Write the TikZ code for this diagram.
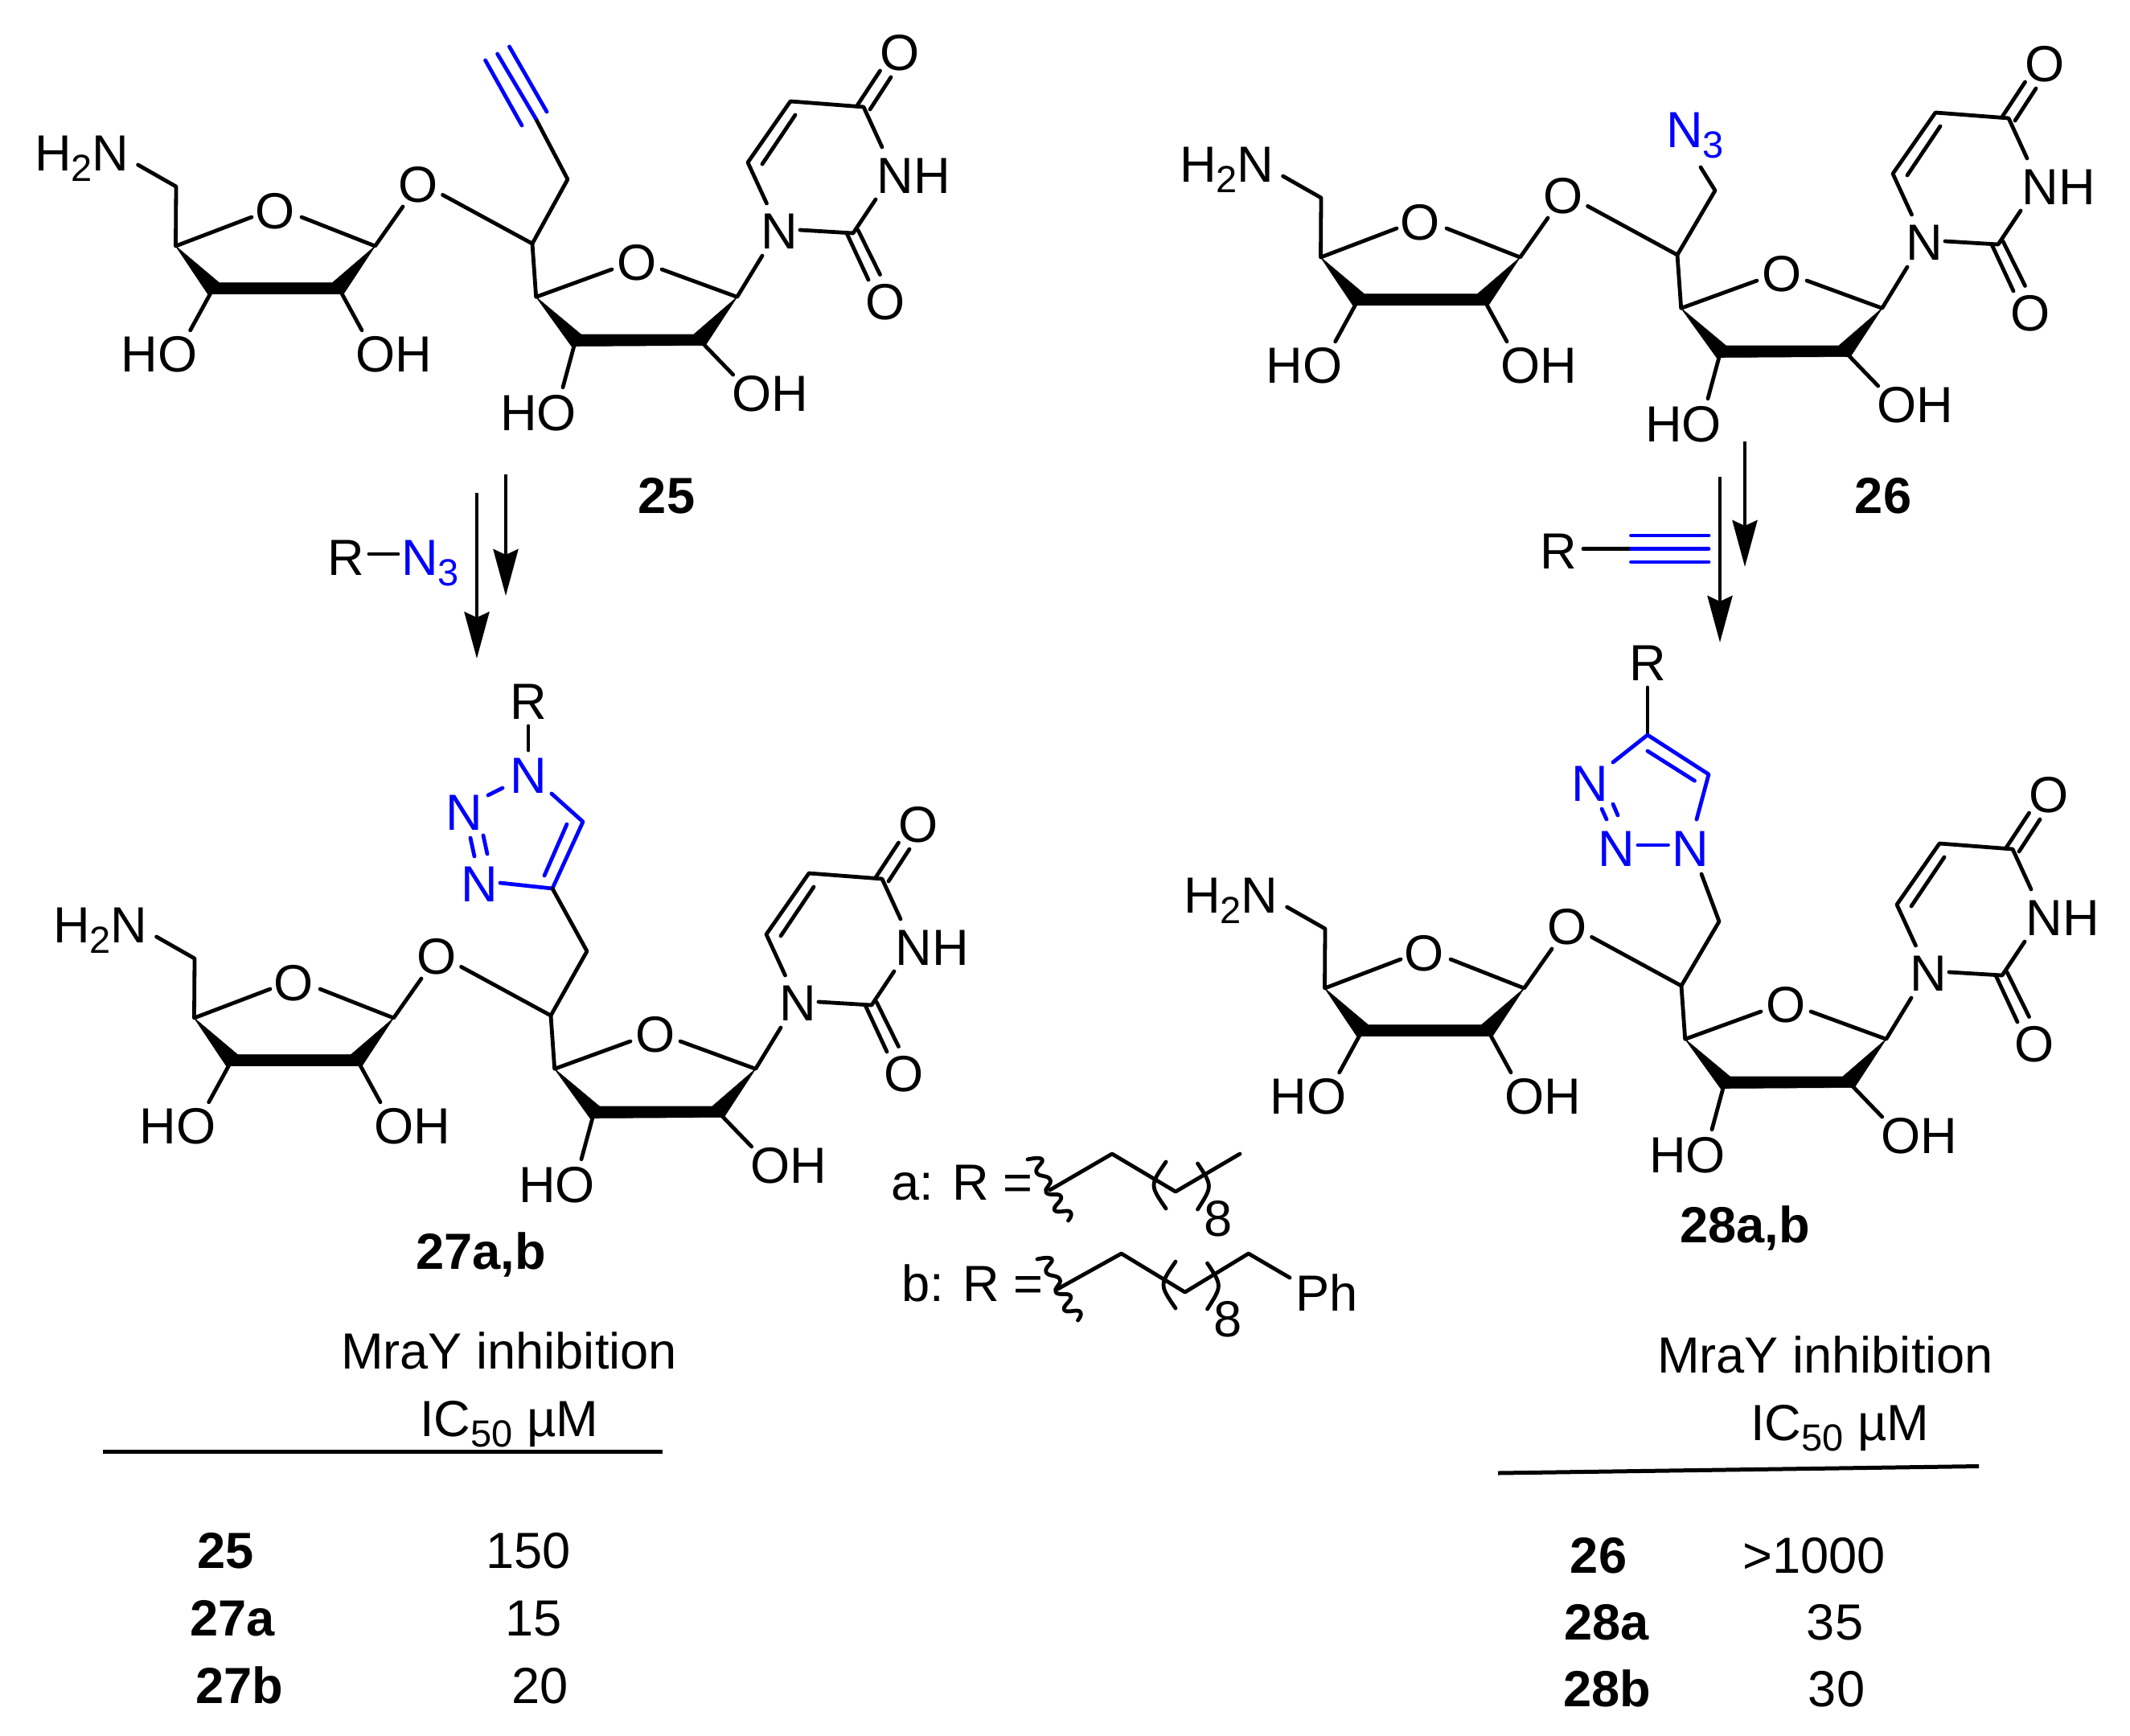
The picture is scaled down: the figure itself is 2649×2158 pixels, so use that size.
\documentclass[tikz,border=0pt]{standalone}
\usepackage{fontspec}
\setmainfont{Liberation Sans}
\usetikzlibrary{arrows.meta}
\definecolor{azure}{RGB}{0,0,255}
\newcommand{\lsub}[1]{\raisebox{-6.5pt}{\fontsize{23.5}{23.5}\selectfont #1}}
\tikzset{
  bond/.style={line width=2.4pt,line cap=round,line join=round},
  nbond/.style={bond,color=azure},
  solidbar/.style={fill=black,draw=black,line width=0.3pt,line join=round},
  atom/.style={font=\fontsize{31.6}{31.6}\selectfont,inner sep=0pt,outer sep=0pt,anchor=base},
  natom/.style={atom,text=azure},
  atomw/.style={atom,anchor=base west},
  natomw/.style={atomw,text=azure},
  tag/.style={atom,font=\fontsize{31.6}{31.6}\selectfont\bfseries},
  rxn/.style={line width=2.3pt,-{Stealth[length=29pt,width=15.5pt,inset=3.5pt]}},
  rule/.style={line width=2.5pt},
}
\newcommand{\scaffold}[3]{%
\begin{scope}[shift={(#2,#3)}]
  \foreach \n/\x/\y in {
    nha/171.6/205, cha/219/232, cb/218.5/306, oae/313/270, obe/375/270, cc/466.5/306,
    ba/272.7/351.7, bb/413.3/351.7, bc/427.3/365.5, bd/258.3/365.5, hoo/261.7/365, hoae/236.7/410.7, oab/425/365, ohae/450/410.7,
    lke/501/257, lkf/550.6/242.4, ch/662/303, cd/666.7/369.3, ode/761/335, oee/823/335,
    ce/916.7/369.3, da/722.7/416, db/862.7/416, dc/877.3/429.5, dd/710.7/430.5,
    hob/714/430, hobe/700/481.7, ohx/875/428, ohbe/911.7/466,
    ne/948/318, nf/953.5/253, cf/930/202, cg/983/126, ia/948/204, ib/989/143,
    ci/1074/133, nhe/1097/183, nhf/1089/248, cj/1061/290, ng/995/286,
    oa/1053/290, oaa/1080/348, ob/1067/286, obb/1094.5/341.5,
    oc/1065.5/132, occ/1094.5/88, od/1082/136, odd/1108/96}
    {\coordinate (#1\n) at (\x,\y);}
  \node[atomw] (#1hn) at (43,212) {H\lsub{2}N};
  \node[atom] (#1ra) at (342.5,284.5) {O};
  \node[atom] (#1hoa) at (198,462) {HO};
  \node[atom] (#1oha) at (490,462) {OH};
  \node[atom] (#1lk) at (520,251) {O};
  \node[atom] (#1rb) at (792,348) {O};
  \node[atom] (#1nhob) at (669.5,535.7) {HO};
  \node[atom] (#1nohb) at (958,511) {OH};
  \node[atom] (#1na) at (969,309) {N};
  \node[atom] (#1nh) at (1136,240) {NH};
  \node[atom] (#1ot) at (1119.4,87) {O};
  \node[atom] (#1ol) at (1101,397) {O};
  \draw[bond] (#1nha) -- (#1cha) -- (#1cb) -- (#1oae);
  \draw[bond] (#1obe) -- (#1cc) -- (#1lke);
  \fill[solidbar] (#1cb) -- (#1ba) -- (#1bb) -- (#1cc) -- (#1bc) -- (#1bd) -- cycle;
  \draw[bond] (#1hoo) -- (#1hoae);
  \draw[bond] (#1oab) -- (#1ohae);
  \draw[bond] (#1lkf) -- (#1ch) -- (#1cd) -- (#1ode);
  \draw[bond] (#1oee) -- (#1ce) -- (#1ne);
  \fill[solidbar] (#1cd) -- (#1da) -- (#1db) -- (#1ce) -- (#1dc) -- (#1dd) -- cycle;
  \draw[bond] (#1hob) -- (#1hobe);
  \draw[bond] (#1ohx) -- (#1ohbe);
  \draw[bond] (#1nf) -- (#1cf) -- (#1cg) -- (#1ci) -- (#1nhe);
  \draw[bond] (#1ia) -- (#1ib);
  \draw[bond] (#1nhf) -- (#1cj) -- (#1ng);
  \draw[bond] (#1oa) -- (#1oaa);
  \draw[bond] (#1ob) -- (#1obb);
  \draw[bond] (#1oc) -- (#1occ);
  \draw[bond] (#1od) -- (#1odd);
\end{scope}}
\begin{document}
\begin{tikzpicture}[x=0.5pt,y=-0.5pt]
\useasboundingbox (0,0) rectangle (2649,2158);
% molecule 25
\scaffold{A}{0}{0}
\coordinate (Ach2) at (706,223);
\coordinate (Atb) at (666,147);
\coordinate (Atc) at (618.6,67);
\coordinate (Ata) at (649,156);
\coordinate (Atd) at (603.6,75);
\coordinate (Ate) at (680,139);
\coordinate (Atf) at (633.5,58);
\draw[bond] (Ach) -- (Ach2) -- (Atb);
\draw[nbond] (Atb) -- (Atc);
\draw[nbond] (Ata) -- (Atd);
\draw[nbond] (Ate) -- (Atf);
\node[tag] (lab25) at (829,638) {25};
% reaction 25 -> 27
\coordinate (ala) at (593,613); \coordinate (alb) at (593,819);
\coordinate (asa) at (629,590); \coordinate (asb) at (629,741);
\draw[rxn] (ala) -- (alb);
\draw[rxn] (asa) -- (asb);
\node[atomw] (rl) at (407,715) {R};
\node[natomw] (nl) at (499,715) {N\lsub{3}};
\coordinate (rla) at (459,689); \coordinate (rlb) at (495,689);
\draw[bond] (rla) -- (rlb);
% molecule 27
\scaffold{B}{23}{960}
\node[atom] (Br) at (657,894) {R};
\node[natom] (Bn1) at (657,986) {N};
\node[natom] (Bn2) at (577,1032) {N};
\node[natom] (Bn3) at (596,1121) {N};
\foreach \n/\x/\y in {r1/657/903, r2/657/933, p1/625/980, p2/607/989, q1/585/1042, q2/590/1065,
  q3/601/1039, q4/606/1062, s1/622/1098, s2/687/1105, s3/725/1022, s4/686/987,
  i1/677/1089, i2/705/1025, ch2/730/1183}
  {\coordinate (B\n) at (\x,\y);}
\draw[bond] (Br1) -- (Br2);
\draw[nbond] (Bp1) -- (Bp2);
\draw[nbond] (Bq1) -- (Bq2);
\draw[nbond] (Bq3) -- (Bq4);
\draw[nbond] (Bs1) -- (Bs2) -- (Bs3) -- (Bs4);
\draw[nbond] (Bi1) -- (Bi2);
\draw[bond] (Bs2) -- (Bch2) -- (Bch);
\node[tag] (lab27) at (598,1578) {27a,b};
% molecule 26
\scaffold{C}{1424}{14}
\node[natomw] (Cn3) at (2072,183) {N\lsub{3}};
\coordinate (Cch2) at (2133,237); \coordinate (Cne) at (2115,208);
\draw[bond] (Cch) -- (Cch2) -- (Cne);
\node[tag] (lab26) at (2342,638) {26};
% reaction 26 -> 28
\coordinate (bla) at (2139,593); \coordinate (blb) at (2139,799);
\coordinate (bsa) at (2170,549); \coordinate (bsb) at (2170,705);
\draw[rxn] (bla) -- (blb);
\draw[rxn] (bsa) -- (bsb);
\node[atom] (rr) at (1938,707) {R};
\foreach \n/\x/\y in {a/1969/682.5, b/2028.5/682.5, c/2125/682.5, d/2028.5/666, e/2125/666, f/2028.5/699, g/2125/699}
  {\coordinate (y\n) at (\x,\y);}
\draw[bond] (ya) -- (yb);
\draw[nbond] (yb) -- (yc);
\draw[nbond] (yd) -- (ye);
\draw[nbond] (yf) -- (yg);
% molecule 28
\scaffold{D}{1429}{923}
\node[atom] (Dr) at (2049,846) {R};
\node[natom] (Dn3) at (1977,996) {N};
\node[natom] (Dn2) at (2010,1077) {N};
\node[natom] (Dn1) at (2102,1077) {N};
\foreach \n/\x/\y in {r1/2049/855, r2/2049/914, c5/2125/963, i1/2049/934, i2/2107.5/971, t1/2006/948,
  q1/1992/1006, q2/1998/1019, q3/2006/1000, q4/2012/1014, p1/2037/1051, p2/2074.5/1051,
  s1/2110/1019, u1/2116/1087, ch2/2138/1146}
  {\coordinate (D\n) at (\x,\y);}
\draw[bond] (Dr1) -- (Dr2);
\draw[nbond] (Dt1) -- (Dr2) -- (Dc5) -- (Ds1);
\draw[nbond] (Di1) -- (Di2);
\draw[nbond] (Dq1) -- (Dq2);
\draw[nbond] (Dq3) -- (Dq4);
\draw[nbond] (Dp1) -- (Dp2);
\draw[bond] (Du1) -- (Dch2) -- (Dch);
\node[tag] (lab28) at (2170,1545) {28a,b};
% R definitions
\node[atomw] (defa) at (1108,1492) {a: R =};
\draw[bond] plot[smooth,tension=0.9] coordinates {(1278,1442) (1296,1442) (1289,1458) (1306,1467) (1301,1483) (1319.5,1488) (1311.5,1505) (1331,1507) (1328.5,1518)};
\foreach \n/\x/\y in {a/1305.6/1480, b/1383/1435, c/1462/1482, d/1542/1435, e/1450/1445, f/1450/1503, g/1489.5/1447, h/1489.5/1504}
  {\coordinate (E\n) at (\x,\y);}
\draw[bond] (Ea) -- (Eb) -- (Ec) -- (Ed);
\draw[bond] (Ee) .. controls (1430,1474) .. (Ef);
\draw[bond] (Eg) .. controls (1508,1475) .. (Eh);
\node[atom] (defa8) at (1515,1537) {8};
\node[atomw] (defb) at (1121,1618) {b: R =};
\draw[bond] plot[smooth,tension=0.9] coordinates {(1290,1566) (1308,1566) (1301,1582) (1318,1591) (1313,1607) (1331.5,1612) (1323.5,1629) (1343,1631) (1340.5,1642)};
\foreach \n/\x/\y in {a/1315.5/1603, b/1394.6/1559, c/1473.7/1607, d/1552.7/1559, i/1604/1589, e/1462/1569, f/1462/1627, g/1501.5/1571, h/1501.5/1628}
  {\coordinate (F\n) at (\x,\y);}
\draw[bond] (Fa) -- (Fb) -- (Fc) -- (Fd) -- (Fi);
\draw[bond] (Fe) .. controls (1442,1598) .. (Ff);
\draw[bond] (Fg) .. controls (1520,1599) .. (Fh);
\node[atom] (defb8) at (1527,1662) {8};
\node[atomw] (defbph) at (1611,1630) {Ph};
% left table
\node[atomw] (th1) at (424,1702.5) {MraY inhibition};
\node[atomw] (th2) at (522,1786) {IC\lsub{50} µM};
\coordinate (ra) at (128,1805); \coordinate (rb) at (824,1805);
\draw[rule] (ra) -- (rb);
\node[tag] (t25) at (281,1950.5) {25};
\node[atom] (v25) at (657,1950.5) {150};
\node[tag] (t27a) at (289,2034) {27a};
\node[atom] (v27a) at (664,2034) {15};
\node[tag] (t27b) at (298,2118) {27b};
\node[atom] (v27b) at (672,2118) {20};
% right table
\node[atomw] (tr1) at (2061,1707) {MraY inhibition};
\node[atomw] (tr2) at (2177,1791) {IC\lsub{50} µM};
\coordinate (rc) at (1863,1832); \coordinate (rd) at (2461,1823.5);
\draw[rule] (rc) -- (rd);
\node[tag] (t26) at (1988,1956) {26};
\node[atom] (v26) at (2256,1956) {>1000};
\node[tag] (t28a) at (1998,2039) {28a};
\node[atom] (v28a) at (2282,2039) {35};
\node[tag] (t28b) at (1999,2122) {28b};
\node[atom] (v28b) at (2284,2122) {30};
\end{tikzpicture}
\end{document}
